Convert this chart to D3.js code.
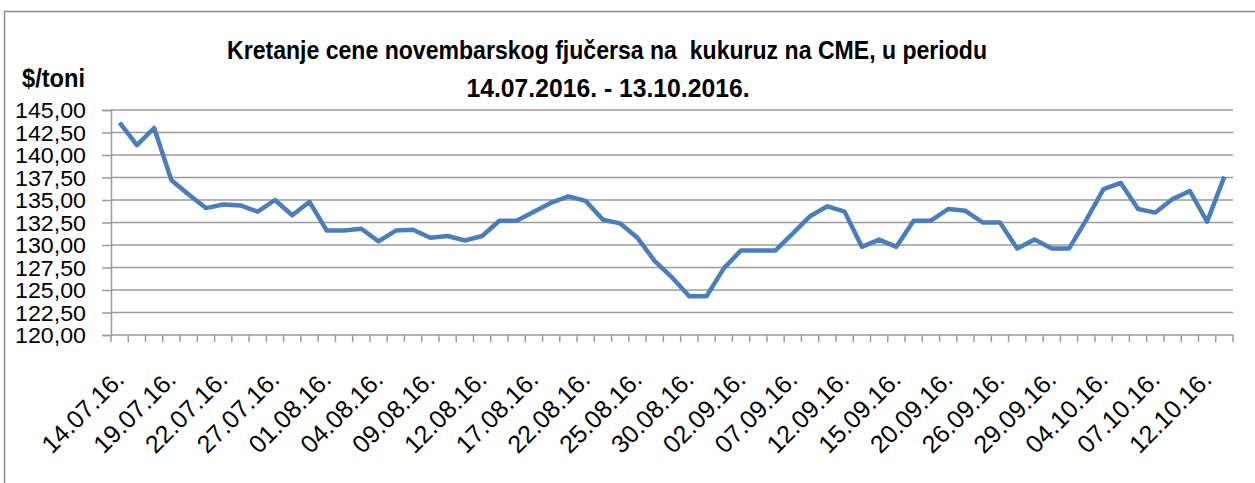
<!DOCTYPE html>
<html>
<head>
<meta charset="utf-8">
<script src="https://cdn.jsdelivr.net/npm/d3@7"></script>
<style>
  body { margin: 0; background: #fff; }
  svg { display: block; font-family: "Liberation Sans", Arial, sans-serif; }
</style>
</head>
<body>
<div id="chart"></div>
<script>
// trading days, 14.07.2016 - 13.10.2016
const dates = [
  "14.07.16.","15.07.16.","18.07.16.","19.07.16.","20.07.16.","21.07.16.","22.07.16.",
  "25.07.16.","26.07.16.","27.07.16.","28.07.16.","29.07.16.",
  "01.08.16.","02.08.16.","03.08.16.","04.08.16.","05.08.16.",
  "08.08.16.","09.08.16.","10.08.16.","11.08.16.","12.08.16.",
  "15.08.16.","16.08.16.","17.08.16.","18.08.16.","19.08.16.",
  "22.08.16.","23.08.16.","24.08.16.","25.08.16.","26.08.16.",
  "29.08.16.","30.08.16.","31.08.16.","01.09.16.","02.09.16.",
  "05.09.16.","06.09.16.","07.09.16.","08.09.16.","09.09.16.",
  "12.09.16.","13.09.16.","14.09.16.","15.09.16.","16.09.16.",
  "19.09.16.","20.09.16.","21.09.16.","22.09.16.",
  "26.09.16.","27.09.16.","28.09.16.","29.09.16.","30.09.16.",
  "03.10.16.","04.10.16.","05.10.16.","06.10.16.","07.10.16.",
  "10.10.16.","11.10.16.","12.10.16.","13.10.16."
];

// price in $/toni
const prices = [
  143.6, 141.1, 143.0, 137.2, 135.6, 134.1, 134.5,
  134.4, 133.7, 135.0, 133.3, 134.8,
  131.6, 131.6, 131.8, 130.4, 131.6,
  131.7, 130.8, 131.0, 130.5, 131.0,
  132.7, 132.7, 133.7, 134.7, 135.4,
  134.9, 132.8, 132.4, 130.8, 128.2,
  126.4, 124.3, 124.3, 127.4, 129.4,
  129.4, 129.4, 131.3, 133.2, 134.3,
  133.7, 129.8, 130.6, 129.8, 132.7,
  132.7, 134.0, 133.8, 132.5,
  132.5, 129.6, 130.6, 129.6, 129.6,
  132.8, 136.2, 136.9, 134.0, 133.6,
  135.1, 136.0, 132.6, 137.6
];

const yTicks = [120, 122.5, 125, 127.5, 130, 132.5, 135, 137.5, 140, 142.5, 145];
const titleLines = ["Kretanje cene novembarskog fjučersa na  kukuruz na CME, u periodu", "14.07.2016. - 13.10.2016."];
const unitLabel = "$/toni";

const width = 1255, height = 483;
const margin = { top: 110, right: 22, bottom: 148, left: 111 };

const svg = d3.select("#chart").append("svg")
  .attr("width", width)
  .attr("height", height);

// outer frame (only top and left edges visible)
svg.append("path")
  .attr("d", `M4.5,${height} V11.5 H${width}`)
  .attr("fill", "none")
  .attr("stroke", "#8c8c8c")
  .attr("stroke-width", 1.5);

const x = d3.scaleBand()
  .domain(dates)
  .range([margin.left, width - margin.right])
  .padding(0);

const y = d3.scaleLinear()
  .domain([120, 145])
  .range([height - margin.bottom, margin.top]);

const locale = d3.formatLocale({ decimal: ",", thousands: ".", grouping: [3], currency: ["", "$"] });
const fmt = locale.format(".2f");

// y axis + gridlines
const yAxis = svg.append("g")
  .attr("transform", `translate(${margin.left},0)`)
  .call(d3.axisLeft(y)
    .tickValues(yTicks)
    .tickSize(9)
    .tickPadding(16)
    .tickFormat(fmt));

yAxis.select(".domain").attr("stroke", "#9a9a9a").attr("stroke-width", 1.5);
yAxis.selectAll(".tick line").attr("stroke", "#9a9a9a").attr("stroke-width", 1.5);
yAxis.selectAll(".tick text")
  .attr("font-size", 22)
  .attr("fill", "#000")
  .attr("textLength", 71)
  .attr("lengthAdjust", "spacingAndGlyphs")
  .attr("dy", "0.36em");

svg.append("g")
  .selectAll("line")
  .data(yTicks)
  .join("line")
  .attr("x1", margin.left)
  .attr("x2", width - margin.right)
  .attr("y1", d => y(d))
  .attr("y2", d => y(d))
  .attr("stroke", "#9a9a9a")
  .attr("stroke-width", 1.5);

// x axis: ticks between categories
const baseY = y(120);
const bounds = dates.map(d => x(d)).concat([x.range()[1]]);
svg.append("g")
  .selectAll("line")
  .data(bounds)
  .join("line")
  .attr("x1", d => d)
  .attr("x2", d => d)
  .attr("y1", baseY)
  .attr("y2", baseY + 7)
  .attr("stroke", "#9a9a9a")
  .attr("stroke-width", 1.5);

const bw = x.bandwidth();
svg.append("g")
  .selectAll("text")
  .data(dates.filter((d, i) => i % 3 === 0))
  .join("text")
  .attr("transform", d => `translate(${x(d) + bw / 2 + 6},${baseY + 46}) rotate(-45)`)
  .attr("text-anchor", "end")
  .attr("font-size", 25)
  .attr("fill", "#000")
  .text(d => d);

// the price line
const line = d3.line()
  .x((d, i) => x(dates[i]) + bw / 2)
  .y(d => y(d));

svg.append("path")
  .datum(prices)
  .attr("fill", "none")
  .attr("stroke", "#4a7ebb")
  .attr("stroke-width", 4.5)
  .attr("stroke-linejoin", "round")
  .attr("d", line);

// title
svg.append("text")
  .attr("x", 607)
  .attr("y", 59)
  .attr("text-anchor", "middle")
  .attr("font-weight", "bold")
  .attr("font-size", 26)
  .attr("textLength", 760)
  .attr("lengthAdjust", "spacingAndGlyphs")
  .style("white-space", "pre")
  .text(titleLines[0]);

svg.append("text")
  .attr("x", 608)
  .attr("y", 97)
  .attr("text-anchor", "middle")
  .attr("font-weight", "bold")
  .attr("font-size", 26)
  .attr("textLength", 283)
  .attr("lengthAdjust", "spacingAndGlyphs")
  .text(titleLines[1]);

svg.append("text")
  .attr("x", 22)
  .attr("y", 87)
  .attr("font-weight", "bold")
  .attr("font-size", 26)
  .attr("textLength", 63)
  .attr("lengthAdjust", "spacingAndGlyphs")
  .text(unitLabel);
</script>
</body>
</html>
